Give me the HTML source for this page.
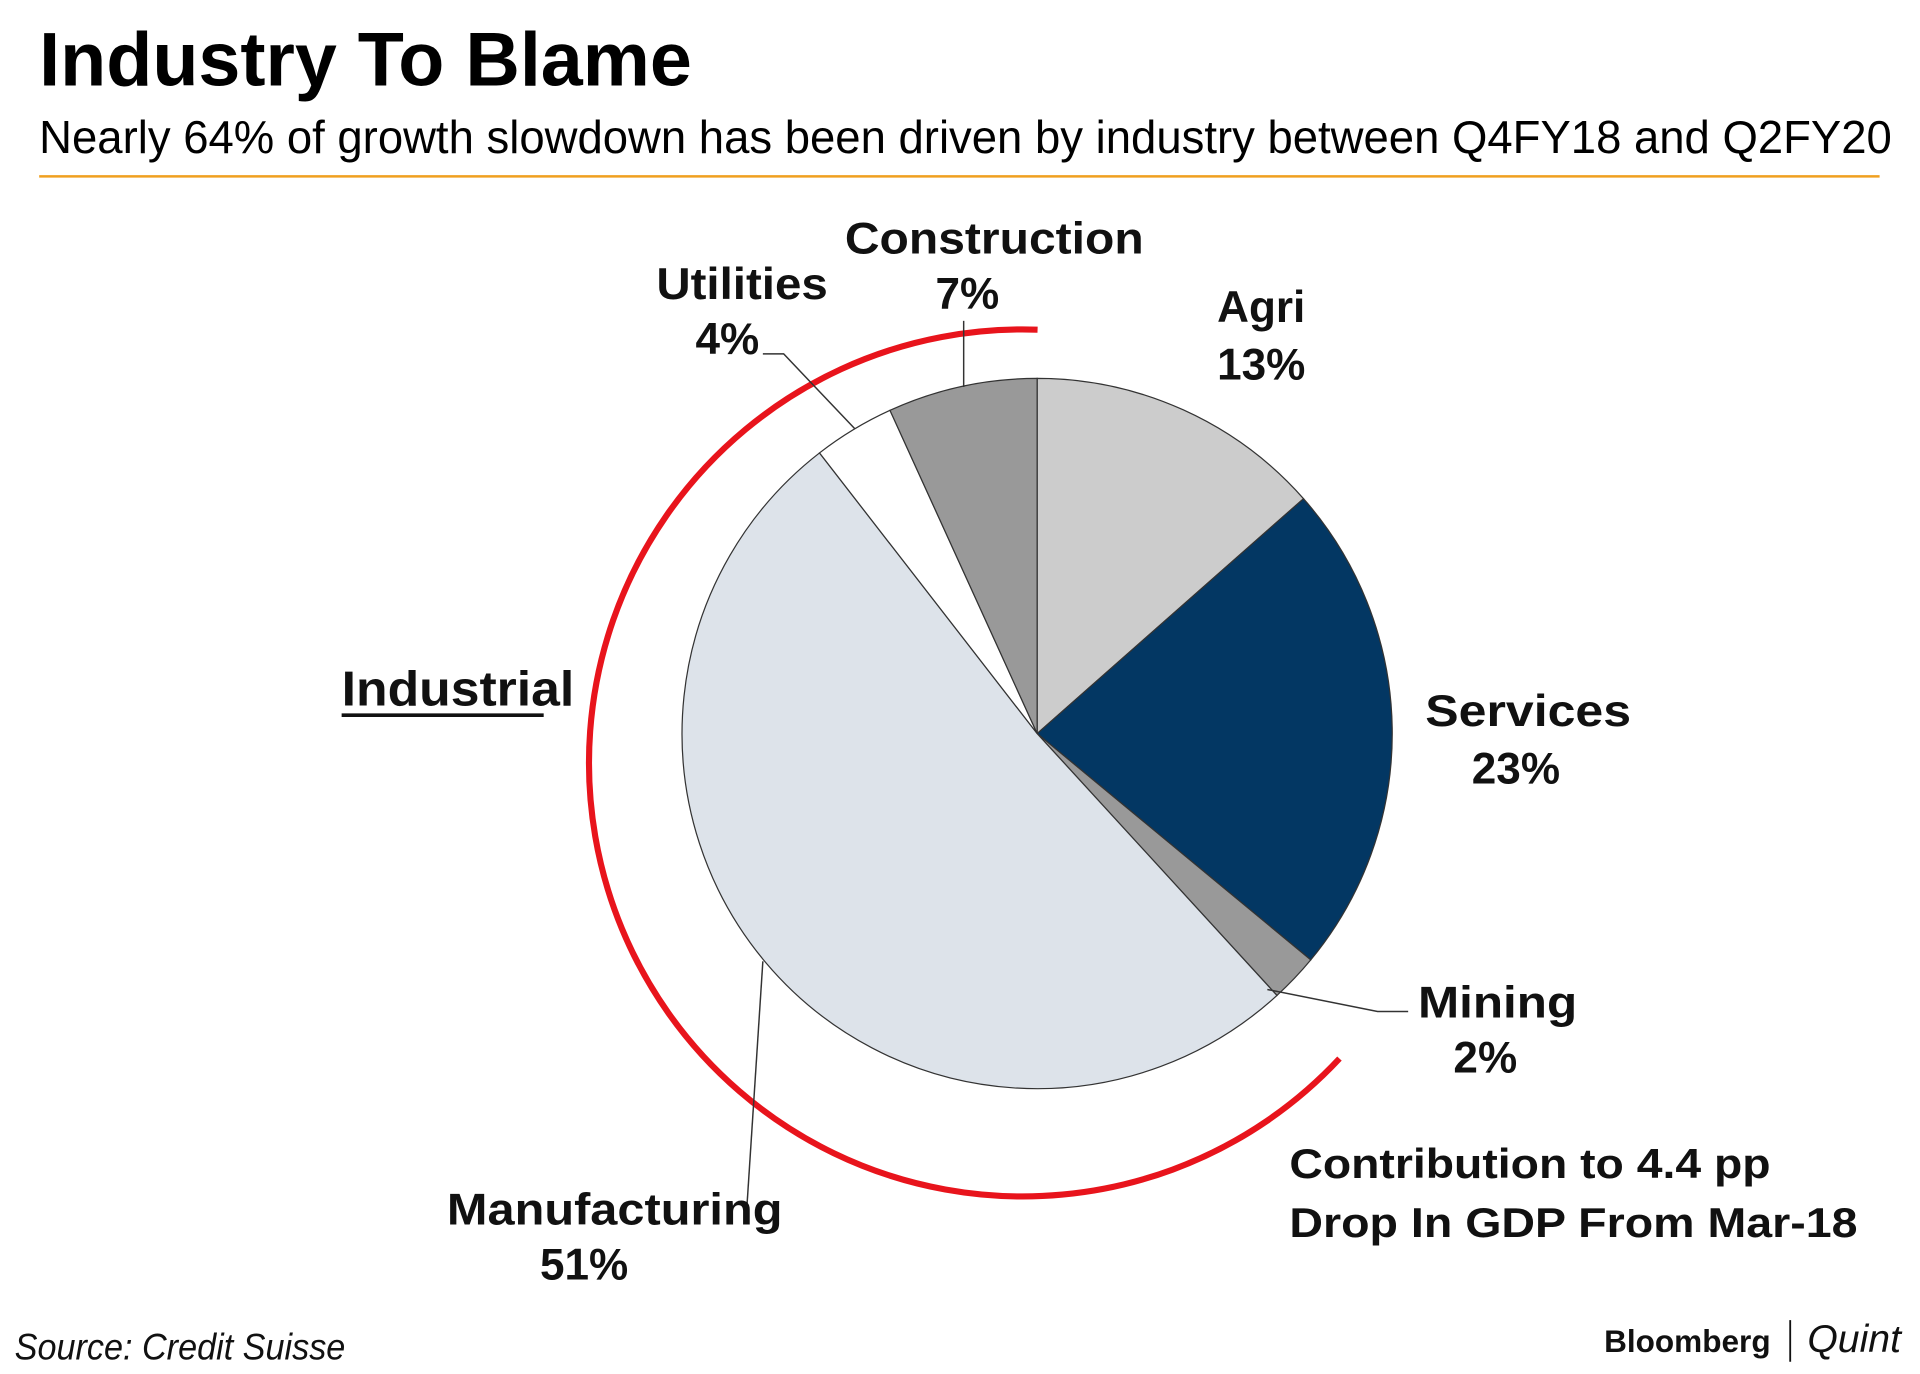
<!DOCTYPE html>
<html><head><meta charset="utf-8"><style>
html,body{margin:0;padding:0;background:#fff;}
svg{display:block;}
text{font-family:"Liberation Sans",sans-serif;}
</style></head><body>
<svg width="1920" height="1374" viewBox="0 0 1568 1122" preserveAspectRatio="none" xmlns="http://www.w3.org/2000/svg">
<rect width="1568" height="1122" fill="#fff"/>
<text x="32" y="70" font-size="62" font-weight="bold" textLength="533" lengthAdjust="spacingAndGlyphs">Industry To Blame</text>
<text x="32" y="125" font-size="38" textLength="1513" lengthAdjust="spacingAndGlyphs">Nearly 64% of growth slowdown has been driven by industry between Q4FY18 and Q2FY20</text>
<line x1="32" y1="144" x2="1535" y2="144" stroke="#f0a020" stroke-width="2"/>
<g id="pie"></g>
<path id="arc" fill="none" stroke="#e8141c" stroke-width="5"/>
<g fill="none" stroke="#333" stroke-width="1.2">
<polyline points="623,289 640,289 698,350"/>
<polyline points="787,262 787,316"/>
<polyline points="1035,808 1125,826 1150,826"/>
<polyline points="623,785 610,985"/>
</g>
<g font-weight="bold" font-size="36" text-anchor="middle" fill="#111">
<text x="812" y="207" textLength="244" lengthAdjust="spacingAndGlyphs">Construction</text>
<text x="790" y="252">7%</text>
<text x="606" y="244" textLength="140" lengthAdjust="spacingAndGlyphs">Utilities</text>
<text x="594" y="289">4%</text>
<text x="1030" y="263">Agri</text>
<text x="1030" y="310">13%</text>
<text x="1248" y="593" textLength="168" lengthAdjust="spacingAndGlyphs">Services</text>
<text x="1238" y="640">23%</text>
<text x="1223" y="831" textLength="130" lengthAdjust="spacingAndGlyphs">Mining</text>
<text x="1213" y="876">2%</text>
<text x="502" y="1000" textLength="274" lengthAdjust="spacingAndGlyphs">Manufacturing</text>
<text x="477" y="1045">51%</text>
</g>
<text x="279" y="576" font-size="40" font-weight="bold" fill="#111" textLength="190" lengthAdjust="spacingAndGlyphs">Industrial</text>
<line x1="279" y1="584" x2="444" y2="584" stroke="#111" stroke-width="3"/>
<text font-size="34" font-weight="bold" fill="#111"><tspan x="1053" y="962" textLength="393" lengthAdjust="spacingAndGlyphs">Contribution to 4.4 pp</tspan><tspan x="1053" y="1010" textLength="464" lengthAdjust="spacingAndGlyphs">Drop In GDP From Mar-18</tspan></text>
<text x="12" y="1110" font-size="30" font-style="italic" fill="#111" textLength="270" lengthAdjust="spacingAndGlyphs">Source: Credit Suisse</text>
<text x="1310" y="1104" font-size="26" font-weight="bold" fill="#111" textLength="136" lengthAdjust="spacingAndGlyphs">Bloomberg</text>
<line x1="1462" y1="1078" x2="1462" y2="1112" stroke="#111" stroke-width="1.5"/>
<text x="1476" y="1104" font-size="32" font-style="italic" font-family="Liberation Serif,serif" fill="#111">Quint</text>
</svg>
<script>
const categories=["Agri","Services","Mining","Manufacturing","Utilities","Construction"];
const shares=[13.5,22.5,2.2,51.3,3.7,6.8];
const colors=["#cccccc","#033763","#999999","#dde3ea","#ffffff","#999999"];
const cx=847,cy=599,r=290;
const g=document.getElementById('pie');
const total=shares.reduce((a,b)=>a+b,0);
let a0=0;
function pt(a,rad,x,y){return [x+rad*Math.sin(a),y-rad*Math.cos(a)];}
shares.forEach((v,i)=>{
  const a1=a0+v/total*2*Math.PI;
  const p0=pt(a0,r,cx,cy),p1=pt(a1,r,cx,cy);
  const large=(a1-a0)>Math.PI?1:0;
  const p=document.createElementNS('http://www.w3.org/2000/svg','path');
  p.setAttribute('d',`M${cx},${cy}L${p0[0]},${p0[1]}A${r},${r} 0 ${large} 1 ${p1[0]},${p1[1]}Z`);
  p.setAttribute('fill',colors[i]);
  p.setAttribute('stroke','#333');
  p.setAttribute('stroke-width','1');
  
  
  g.appendChild(p);
  a0=a1;
});
const acx=835,acy=623,ar=354;
const s=pt(2*Math.PI/180,ar,acx,acy),e=pt(133*Math.PI/180,ar,acx,acy);
document.getElementById('arc').setAttribute('d',`M${s[0]},${s[1]}A${ar},${ar} 0 1 0 ${e[0]},${e[1]}`);
</script>
</body></html>
